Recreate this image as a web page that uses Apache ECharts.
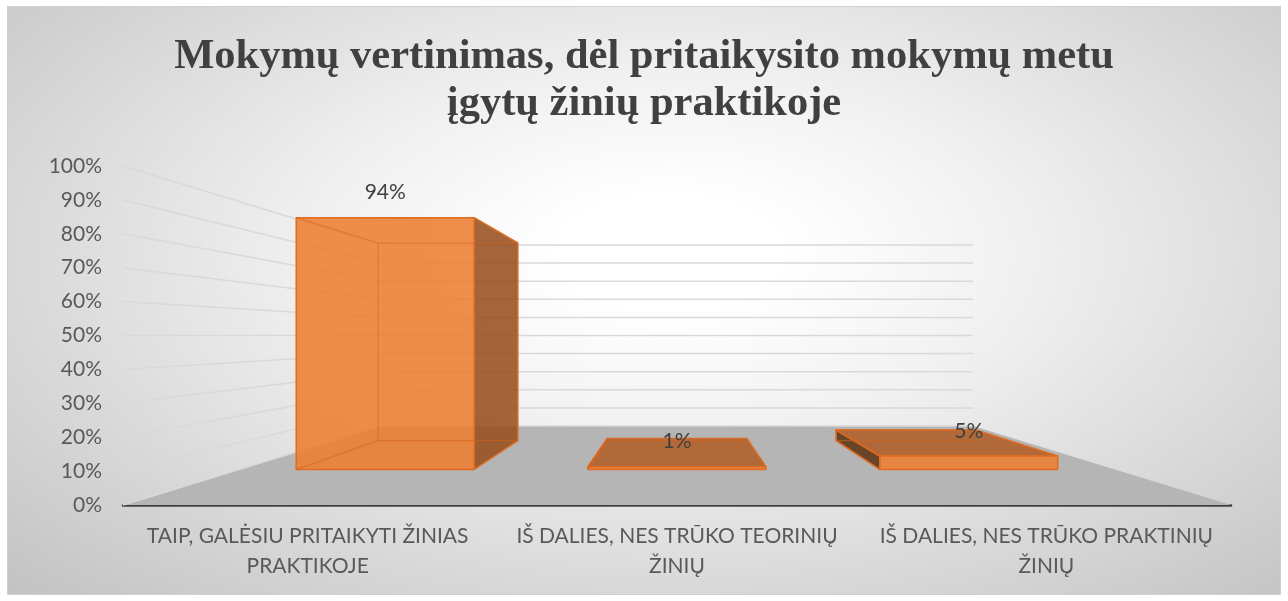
<!DOCTYPE html>
<html>
<head>
<meta charset="utf-8">
<script src="https://cdn.jsdelivr.net/npm/echarts@6/dist/echarts.min.js"></script>
<style>
  html, body { margin: 0; padding: 0; background: #fff; }
  #chart {
    position: absolute;
    left: 7px; top: 6px;
    width: 1274px; height: 589px;
    box-sizing: border-box;
    border: 1px solid #d0d0d0;
    background: radial-gradient(ellipse farthest-corner at 52% 42%, #ffffff 12%, #f0f0f0 38%, #c2c2c2 100%);
  }
</style>
</head>
<body>
<div id="chart"></div>
<script>
const titleLines = ['Mokymų vertinimas, dėl pritaikysito mokymų metu', 'įgytų žinių praktikoje']
const categories = [
  'TAIP, GALĖSIU PRITAIKYTI ŽINIAS\nPRAKTIKOJE',
  'IŠ DALIES, NES TRŪKO TEORINIŲ\nŽINIŲ',
  'IŠ DALIES, NES TRŪKO PRAKTINIŲ\nŽINIŲ'
]
const values = [94, 1, 5]
const yTicks = [0, 10, 20, 30, 40, 50, 60, 70, 80, 90, 100]

// perspective: scale toward the centre of the plot for each depth
const S_WALL = 0.534
const S_BAR_FRONT = 0.79
const S_BAR_BACK = 0.62
const BAR_FRACTION = 0.61
const LABEL_FONT = 'Lato'
const LABEL_SIZE = 21

const chart = echarts.init(document.getElementById('chart'))

function projector(cs) {
  const cx = cs.x + cs.width / 2
  const cy = cs.y + cs.height / 2
  return (x, y, s) => [cx + (x - cx) * s, cy + (y - cy) * s]
}

function renderFloor(params, api) {
  const cs = params.coordSys
  const p = projector(cs)
  const y0 = api.coord([0, 0])[1]
  const l = cs.x, r = cs.x + cs.width
  return {
    type: 'polygon',
    shape: { points: [[l, y0], [r, y0], p(r, y0, S_WALL), p(l, y0, S_WALL)] },
    style: { fill: '#b5b5b5' },
    silent: true
  }
}

function renderWall(params, api) {
  const cs = params.coordSys
  const p = projector(cs)
  const y = api.coord([0, api.value(1)])[1]
  const l = cs.x, r = cs.x + cs.width
  const bl = p(l, y, S_WALL), br = p(r, y, S_WALL)
  const st = { stroke: '#d9d9d9', lineWidth: 1.5 }
  return {
    type: 'group',
    silent: true,
    children: [
      { type: 'line', shape: { x1: l, y1: y, x2: bl[0], y2: bl[1] }, style: st },
      { type: 'line', shape: { x1: bl[0], y1: bl[1], x2: br[0], y2: br[1] }, style: st }
    ]
  }
}

function renderBar(params, api) {
  const cs = params.coordSys
  const cx = cs.x + cs.width / 2
  const cy = cs.y + cs.height / 2
  const p = projector(cs)
  const i = api.value(0)
  const v = api.value(1)
  const base = api.coord([i, 0])
  const top = api.coord([i, v])
  const half = api.size([1, 0])[0] * BAR_FRACTION / 2
  const xl = base[0] - half, xr = base[0] + half
  const y0 = base[1], y1 = top[1]
  const F = (x, y) => p(x, y, S_BAR_FRONT)
  const B = (x, y) => p(x, y, S_BAR_BACK)
  const edge = { stroke: '#e06c22', lineWidth: 1.5, lineJoin: 'round' }
  const face = (pts, fill) => ({ type: 'polygon', shape: { points: pts }, style: Object.assign({ fill }, edge) })
  const line = (a, b) => ({ type: 'line', shape: { x1: a[0], y1: a[1], x2: b[0], y2: b[1] }, style: { stroke: 'rgba(214,100,28,0.55)', lineWidth: 1.2 } })

  const children = []
  // visible side/top faces
  if (cx > xr) children.push(face([F(xr, y1), B(xr, y1), B(xr, y0), F(xr, y0)], 'rgba(150,80,30,0.88)'))
  if (cx < xl) children.push(face([F(xl, y1), B(xl, y1), B(xl, y0), F(xl, y0)], 'rgba(95,53,21,0.88)'))
  if (cy < y1) children.push(face([F(xl, y1), F(xr, y1), B(xr, y1), B(xl, y1)], 'rgba(178,95,41,0.88)'))
  children.push(face([F(xl, y1), F(xr, y1), F(xr, y0), F(xl, y0)], 'rgba(237,125,49,0.88)'))
  // hidden edges seen through the transparent faces
  children.push(line(B(xl, y0), B(xr, y0)))
  children.push(line(F(xl, y0), B(xl, y0)))
  children.push(line(B(xl, y1), B(xl, y0)))
  children.push(line(F(xl, y1), B(xl, y1)))
  children.push(line(B(xl, y1), B(xr, y1)))
  // data label
  const lp = F(base[0], y1)
  children.push({
    type: 'text',
    style: {
      text: v + '%', x: lp[0], y: lp[1] - 25,
      align: 'center', verticalAlign: 'middle',
      fill: '#404040', fontSize: LABEL_SIZE, fontFamily: LABEL_FONT
    }
  })
  return { type: 'group', children }
}

chart.setOption({
  animation: false,
  title: {
    text: titleLines.join('\n'),
    left: 'center',
    top: 22,
    textStyle: {
      fontFamily: 'Liberation Serif',
      fontWeight: 'bold',
      fontSize: 42.5,
      lineHeight: 47,
      color: '#404040'
    }
  },
  grid: { left: 115, right: 49, top: 159, bottom: 89 },
  xAxis: {
    type: 'category',
    data: categories,
    axisLine: { lineStyle: { color: '#404040', width: 2.5 } },
    axisTick: { show: false },
    axisLabel: {
      interval: 0,
      margin: 16,
      color: '#595959',
      fontSize: LABEL_SIZE,
      lineHeight: 30,
      fontFamily: LABEL_FONT
    }
  },
  yAxis: {
    type: 'value',
    min: 0,
    max: 100,
    interval: 10,
    axisLine: { show: false },
    axisTick: { show: false },
    splitLine: { show: false },
    axisLabel: {
      margin: 21,
      color: '#595959',
      fontSize: LABEL_SIZE,
      fontFamily: LABEL_FONT,
      formatter: '{value}%'
    }
  },
  series: [
    { type: 'custom', z: 1, renderItem: renderFloor, data: [[0, 0]] },
    { type: 'custom', z: 2, renderItem: renderWall, data: yTicks.map(t => [0, t]) },
    { type: 'custom', z: 3, renderItem: renderBar, data: values.map((v, i) => [i, v]) }
  ]
})
</script>
</body>
</html>
